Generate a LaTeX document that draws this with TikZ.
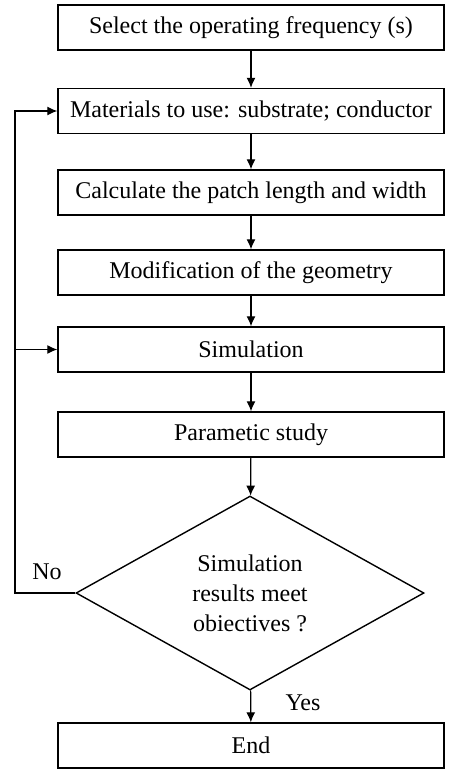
\documentclass[tikz,border=0pt]{standalone}
\usepackage{fontspec}
\setmainfont{Liberation Serif}
\usetikzlibrary{shapes.geometric,arrows.meta}

\begin{document}
\begin{tikzpicture}[x=0.5pt,y=-0.5pt,
  every node/.style={font=\fontsize{12}{15}\selectfont},
  stepbox/.style={draw,line width=0.7pt,minimum width=193pt,minimum height=22.5pt,inner sep=0pt},
  testbox/.style={draw,diamond,line width=0.7pt,minimum width=174pt,minimum height=97pt,inner sep=0pt,aspect=1.8,align=center},
  line/.style={line width=0.6pt,-{Latex[length=5pt,width=4.5pt]}}]
\useasboundingbox (0,0) rectangle (466,773);
\node[stepbox] (freq) at (251,27.5) {Select the operating frequency (s)};
\node[stepbox] (mat) at (251,111) {Materials to use: substrate; conductor};
\node[stepbox] (patch) at (251,192.5) {Calculate the patch length and width};
\node[stepbox] (geom) at (251,272.5) {Modification of the geometry};
\node[stepbox] (sim) at (251,349.5) {Simulation};
\node[stepbox] (param) at (251,434.5) {Parametic study};
\node[testbox] (test) at (250,593) {Simulation\\results meet\\obiectives ?};
\node[stepbox] (end) at (251,745.5) {End};
\node (no) at (47,572) {No};
\node (yes) at (303,703) {Yes};
\coordinate (back) at (15,593);
\draw[line] (freq) -- (mat);
\draw[line] (mat) -- (patch);
\draw[line] (patch) -- (geom);
\draw[line] (geom) -- (sim);
\draw[line] (sim) -- (param);
\draw[line] (param) -- (test);
\draw[line] (test) -- (end);
\draw[line] (test.west) -- (back) |- (mat.west);
\draw[line] (back |- sim.west) -- (sim.west);
\end{tikzpicture}
\end{document}
